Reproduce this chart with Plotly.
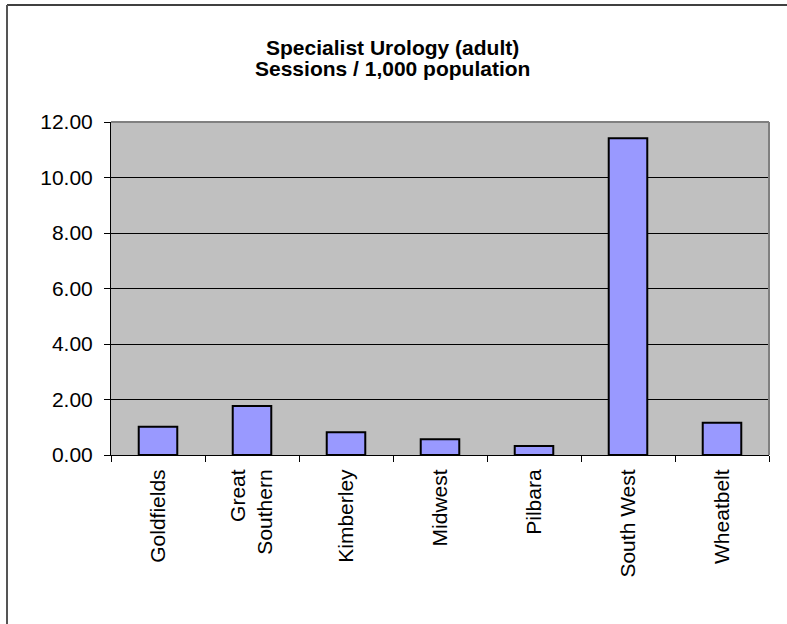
import plotly.graph_objects as go

categories = ["Goldfields", "Great<br>Southern", "Kimberley", "Midwest", "Pilbara", "South West", "Wheatbelt"]
values = [1.02, 1.77, 0.82, 0.57, 0.32, 11.41, 1.16]
y_ticks = [0, 2, 4, 6, 8, 10, 12]
y_labels = ["0.00", "2.00", "4.00", "6.00", "8.00", "10.00", "12.00"]
title_lines = ["Specialist Urology (adult)", "Sessions / 1,000 population"]

W, H = 787, 624
L, R, T, B = 111, 769, 122, 455

fig = go.Figure(go.Bar(
    x=categories, y=values,
    marker=dict(color="#9999FF", line=dict(color="black", width=2)),
    width=0.41,
))

font = "Arial, Liberation Sans, sans-serif"
fig.update_layout(
    width=W, height=H,
    margin=dict(l=L, r=W - R, t=T, b=H - B),
    paper_bgcolor="white", plot_bgcolor="#C0C0C0",
    showlegend=False,
    font=dict(family=font, color="black"),
)
for i, (line, yc) in enumerate(zip(title_lines, [47, 68])):
    fig.add_annotation(text="<b>%s</b>" % line, xref="paper", yref="paper",
                       x=(392 - L) / (R - L), y=(B - yc) / (B - T),
                       xanchor="center", yanchor="middle", showarrow=False,
                       font=dict(family=font, size=21, color="black"))
fig.update_xaxes(
    type="category", tickangle=-90, ticks="outside", tickson="boundaries",
    ticklen=6, tickcolor="black", tickwidth=1,
    showline=True, linecolor="black", linewidth=1, mirror=False,
    showgrid=False, tickfont=dict(size=21, family=font, color="black"),
    ticklabelstandoff=5,
)
fig.update_yaxes(
    range=[0, 12], tickvals=y_ticks, ticktext=y_labels,
    ticks="outside", ticklen=6, tickcolor="black", tickwidth=1,
    showline=True, linecolor="black", linewidth=1,
    showgrid=True, gridcolor="black", gridwidth=1, zeroline=False,
    tickfont=dict(size=21, family=font, color="black"),
    ticklabelstandoff=7,
)
# gray border on top and right of plot area
fig.add_shape(type="line", xref="paper", yref="paper", x0=0, x1=1, y0=1, y1=1,
              line=dict(color="#808080", width=2))
fig.add_shape(type="line", xref="paper", yref="paper", x0=1, x1=1, y0=0, y1=1,
              line=dict(color="#808080", width=2))
# outer chart border (top and left visible)
fig.add_shape(type="line", xref="paper", yref="paper",
              x0=(7 - L) / (R - L), x1=(W + 20 - L) / (R - L),
              y0=(B - 5) / (B - T), y1=(B - 5) / (B - T),
              line=dict(color="black", width=1.5))
fig.add_shape(type="line", xref="paper", yref="paper",
              x0=(7 - L) / (R - L), x1=(7 - L) / (R - L),
              y0=(B - 5) / (B - T), y1=(B - H - 20) / (B - T),
              line=dict(color="#555555", width=2))

fig.write_html("out.html")
